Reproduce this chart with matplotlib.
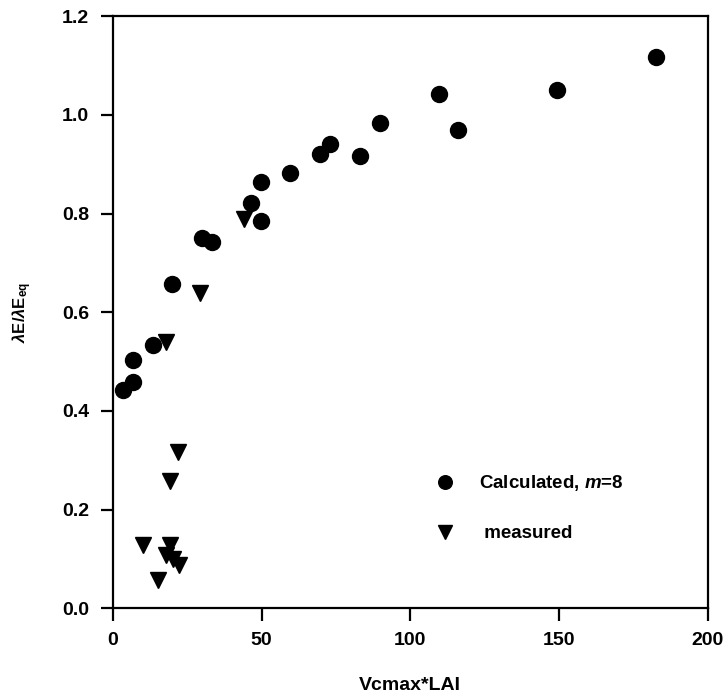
"""
lambdaE / lambdaE_eq against Vcmax*LAI
calculated (m=8) vs measured
"""

import matplotlib

matplotlib.use("Agg")
import matplotlib.pyplot as plt

plt.rcParams["font.family"] = ["Liberation Sans", "DejaVu Sans"]
plt.rcParams["font.weight"] = "bold"
plt.rcParams["mathtext.fontset"] = "custom"
plt.rcParams["mathtext.rm"] = "Liberation Sans"
plt.rcParams["mathtext.bf"] = "Liberation Sans:bold"
plt.rcParams["mathtext.it"] = "Liberation Sans:bold:italic"

# %%
# calculated, m=8
calc_x = [3.5, 6.8, 6.8, 13.5, 20.0, 30.0, 33.4, 46.5, 49.9, 49.9,
          59.7, 69.7, 73.0, 83.1, 89.8, 109.7, 116.2, 149.4, 182.7]
calc_y = [0.443, 0.459, 0.503, 0.534, 0.658, 0.750, 0.742, 0.821, 0.864, 0.785,
          0.882, 0.921, 0.940, 0.917, 0.984, 1.042, 0.969, 1.050, 1.117]

# measured
meas_x = [10.2, 15.2, 18.0, 18.0, 19.1, 19.1, 20.2, 21.9, 22.3, 29.2, 44.0]
meas_y = [0.128, 0.058, 0.540, 0.107, 0.257, 0.129, 0.099, 0.317, 0.087, 0.639, 0.788]

xticks = [0, 50, 100, 150, 200]
yticks = [0.0, 0.2, 0.4, 0.6, 0.8, 1.0, 1.2]

# %%
fig = plt.figure(figsize=(7.28, 7.0), dpi=100)
ax = fig.add_axes([0.155, 0.131, 0.817, 0.846])

ax.plot(calc_x, calc_y, "o", color="black", markersize=11.5, label="Calculated, $m$=8")
ax.plot(meas_x, meas_y, "v", color="black", markersize=12, label=" measured")

ax.set_xlim(0, 200)
ax.set_ylim(0, 1.2)
ax.set_xticks(xticks)
ax.set_yticks(yticks)
ax.set_xticklabels([str(t) for t in xticks])
ax.set_yticklabels([f"{t:.1f}" for t in yticks])

for s in ax.spines.values():
    s.set_linewidth(1.6)
ax.tick_params(direction="out", length=9, width=1.6, labelsize=14, pad=8)

ax.set_xlabel("Vcmax*LAI", fontsize=14, fontweight="bold", labelpad=20)
ax.set_ylabel(r"$\lambda$E/$\lambda$E$_{\mathbf{eq}}$", fontsize=12, fontweight="bold", labelpad=20)

ax.legend(
    loc="center left",
    bbox_to_anchor=(0.515, 0.17),
    frameon=False,
    fontsize=13.5,
    markerscale=0.85,
    handlelength=1.0,
    handletextpad=1.3,
    labelspacing=1.7,
)

fig.savefig("out.png", dpi=100)
